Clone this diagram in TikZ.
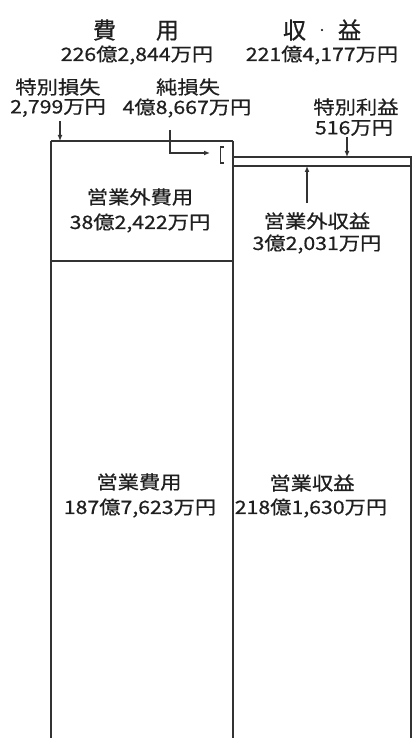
\documentclass[tikz,border=0pt]{standalone}
\usepackage{fontspec}
\newfontfamily\jp[FakeStretch=1.15,FakeBold=0.6]{Noto Sans CJK JP}
\newfontfamily\jptitle[FakeBold=0.8]{Noto Sans CJK JP}
\usetikzlibrary{arrows.meta}
\begin{document}
\begin{tikzpicture}[x=1pt,y=-1pt,
  lbl/.style={font=\jp\fontsize{18.5}{20}\selectfont, inner sep=0pt, text=black!88},
  ttl/.style={font=\jptitle\fontsize{23}{25}\selectfont, inner sep=0pt, text=black!88},
  edge/.style={draw=black!80, line width=1.5pt},
  thick edge/.style={draw=black!80, line width=2.3pt},
  arr/.style={draw=black!80, line width=1.2pt, -{Latex[length=6pt,width=5pt]}},
  brk/.style={draw=black!80, line width=1.2pt}
]
\useasboundingbox (0,0) rectangle (414,738);

% titles
\node[ttl] (hiyo) at (136,30) {費\hspace{40pt}用};
\node[ttl] (shueki) at (322,30) {収\hspace{11pt}\raisebox{5pt}{\fontsize{10}{10}\selectfont ・}\hspace{11pt}益};
\node[lbl] (hiyoamt) at (137,55) {226億2,844万円};
\node[lbl] (shuekiamt) at (322,55) {221億4,177万円};

% top labels
\node[lbl] (tokuson) at (58,87) {特別損失};
\node[lbl] (tokusonamt) at (58,108) {2,799万円};
\node[lbl] (junson) at (188,87) {純損失};
\node[lbl] (junsonamt) at (187,108) {4億8,667万円};
\node[lbl] (tokueki) at (356,107) {特別利益};
\node[lbl] (tokuekiamt) at (354,128) {516万円};

% box labels
\node[lbl] (eigaihiyo) at (140,197) {営業外費用};
\node[lbl] (eigaihiyoamt) at (140,223) {38億2,422万円};
\node[lbl] (eigaishueki) at (317,221) {営業外収益};
\node[lbl] (eigaishuekiamt) at (317,244) {3億2,031万円};
\node[lbl] (eigyohiyo) at (139,482) {営業費用};
\node[lbl] (eigyohiyoamt) at (140,508) {187億7,623万円};
\node[lbl] (eigyoshueki) at (312,483) {営業収益};
\node[lbl] (eigyoshuekiamt) at (311,508) {218億1,630万円};

% coordinates of the boxes
\coordinate (LTL) at (51,141);
\coordinate (LTR) at (233,141);
\coordinate (LBL) at (51,738);
\coordinate (LBR) at (233,738);
\coordinate (RTL) at (233,157);
\coordinate (RTR) at (411,157);
\coordinate (R2L) at (233,166);
\coordinate (R2R) at (411,166);
\coordinate (RBR) at (411,738);
\coordinate (DL) at (51,261);
\coordinate (DR) at (233,261);

% boxes
\draw[edge] (LBL) -- (LTL);
\draw[thick edge] (LTL) -- (LTR);
\draw[edge] (LTR) -- (LBR);
\draw[edge] (RTL) -- (RTR) -- (RBR);
\draw[edge] (R2L) -- (R2R);
\draw[edge] (DL) -- (DR);

% bracket for net loss
\draw[brk] (224,147) -- (220.5,147) -- (220.5,163) -- (224,163);

% arrows
\coordinate (tokusontip) at (60,141);
\draw[arr] (60,121) -- (tokusontip);
\coordinate (junstart) at (170,130);
\coordinate (junbend) at (170,153);
\coordinate (juntip) at (210,153);
\draw[arr] (junstart) -- (junbend) -- (juntip);
\coordinate (tokuekitip) at (347,157);
\draw[arr] (347,137) -- (tokuekitip);
\coordinate (eigaistart) at (307,203);
\coordinate (eigaitip) at (307,166);
\draw[arr] (eigaistart) -- (eigaitip);
\end{tikzpicture}
\end{document}
